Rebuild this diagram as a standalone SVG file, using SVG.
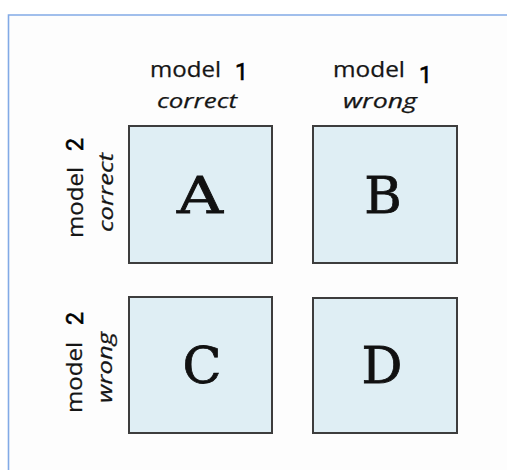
<svg xmlns="http://www.w3.org/2000/svg" width="507" height="470" viewBox="0 0 507 470">
  <style>
    .cell rect { fill: #dfeef4; stroke: #3d3d3d; stroke-width: 2; }
    .cell text { font-family: "DejaVu Serif", "Liberation Serif", serif; font-size: 51px; fill: #111; stroke: #111; stroke-width: 0.8; text-anchor: middle; }
    .lbl { font-family: "Open Sans", "DejaVu Sans", sans-serif; font-size: 21px; fill: #151515; stroke: #151515; stroke-width: 0.25; }
    .lbl-i { font-family: "Open Sans", "DejaVu Sans", sans-serif; font-size: 20.5px; font-style: italic; fill: #151515; stroke: #151515; stroke-width: 0.25; }
    .num { font-family: Roboto, "Liberation Sans", Arial, sans-serif; font-size: 23px; fill: #000; stroke: #000; stroke-width: 0.6; text-anchor: middle; }
  </style>

  <!-- panel background and frame -->
  <rect x="0" y="0" width="507" height="470" fill="#ffffff"/>
  <rect x="8.5" y="15" width="498.5" height="455" fill="#fdfdfd"/>
  <path d="M8.5 470 V15 H507" fill="none" stroke="#82aae6" stroke-width="1.6"/>

  <!-- column headers -->
  <g id="header-col1">
    <text class="lbl" x="150" y="77" textLength="71" lengthAdjust="spacingAndGlyphs">model</text>
    <text class="num" x="241.5" y="80">1</text>
    <text class="lbl-i" x="157" y="108" textLength="80" lengthAdjust="spacingAndGlyphs">correct</text>
  </g>
  <g id="header-col2">
    <text class="lbl" x="333" y="77" textLength="72" lengthAdjust="spacingAndGlyphs">model</text>
    <text class="num" x="425.5" y="83">1</text>
    <text class="lbl-i" x="343" y="108" textLength="74" lengthAdjust="spacingAndGlyphs">wrong</text>
  </g>

  <!-- row headers, reading bottom to top -->
  <g id="header-row1">
    <text class="lbl" transform="translate(83 238) rotate(-90)" textLength="71" lengthAdjust="spacingAndGlyphs">model</text>
    <text class="num" transform="translate(83 144.5) rotate(-90)">2</text>
    <text class="lbl-i" transform="translate(113 232) rotate(-90)" textLength="79" lengthAdjust="spacingAndGlyphs">correct</text>
  </g>
  <g id="header-row2">
    <text class="lbl" transform="translate(82 413) rotate(-90)" textLength="71" lengthAdjust="spacingAndGlyphs">model</text>
    <text class="num" transform="translate(83 318.5) rotate(-90)">2</text>
    <text class="lbl-i" transform="translate(112 403) rotate(-90)" textLength="71" lengthAdjust="spacingAndGlyphs">wrong</text>
  </g>

  <!-- outcome cells -->
  <g id="cell-A" class="cell">
    <rect x="129" y="126" width="143" height="137"/>
    <text x="200" y="213" textLength="46" lengthAdjust="spacingAndGlyphs">A</text>
  </g>
  <g id="cell-B" class="cell">
    <rect x="313" y="126" width="144" height="137"/>
    <text x="383" y="213">B</text>
  </g>
  <g id="cell-C" class="cell">
    <rect x="129" y="297" width="143" height="136"/>
    <text x="202" y="383">C</text>
  </g>
  <g id="cell-D" class="cell">
    <rect x="313" y="298" width="144" height="135"/>
    <text x="382" y="383">D</text>
  </g>

  <g id="connectors"/>
</svg>
